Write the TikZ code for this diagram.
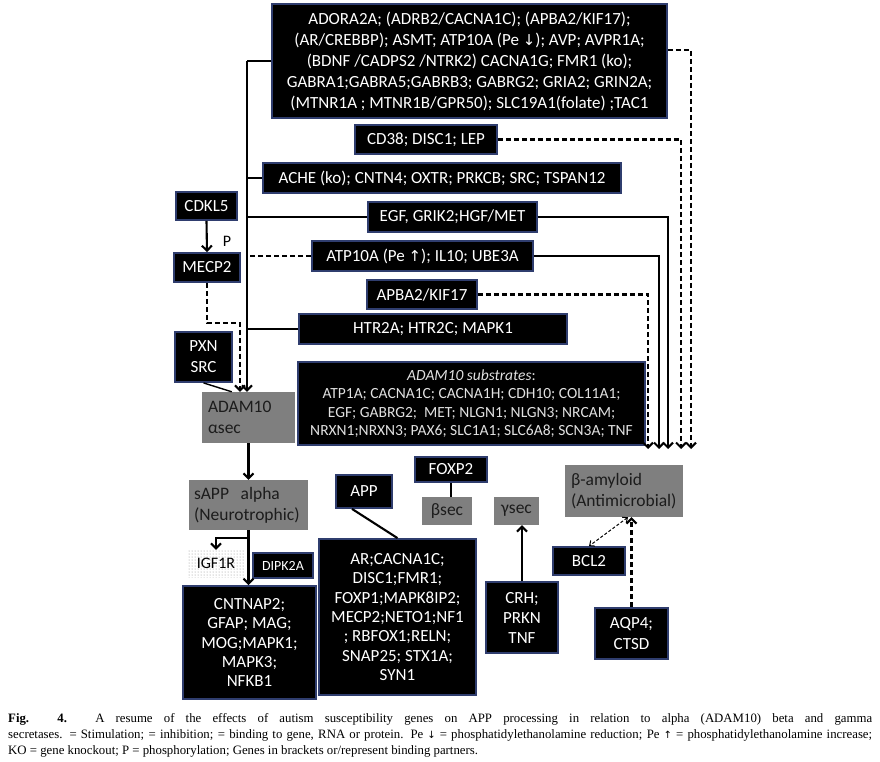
\documentclass[tikz,border=0pt]{standalone}
\usepackage{fontspec}
\setmainfont{Carlito}
\newfontfamily\capfont{Liberation Serif}
\newfontfamily\symfont{DejaVu Sans}
\usetikzlibrary{arrows.meta,patterns,calc}
\definecolor{navy}{RGB}{47,61,110}
\definecolor{boxgray}{RGB}{127,127,127}
\definecolor{gtext}{RGB}{28,28,28}
\definecolor{subtext}{RGB}{225,225,225}
\begin{document}
\begin{tikzpicture}[x=1pt,y=-1pt,
  blk/.style={draw=navy, line width=1.8pt, fill=black, text=white, inner sep=0pt, align=center, font=\fontsize{17}{21}\selectfont},
  gry/.style={fill=boxgray, text=gtext, inner sep=0pt, align=left, font=\fontsize{17.5}{21}\selectfont},
  con/.style={line width=2.1pt},
  dsh/.style={line width=2.1pt, dash pattern=on 5pt off 3pt},
  arr/.style={-{Straight Barb[length=5pt,width=10pt]}},
]
\useasboundingbox (0,0) rectangle (880,761);
\fill[white] (0,0) rectangle (880,761);

% top boxes
\node[blk, minimum width=395, minimum height=114] (adora) at (469.5,61) {ADORA2A; (ADRB2/CACNA1C); (APBA2/KIF17);\\
(AR/CREBBP); ASMT; ATP10A (Pe {\symfont\fontsize{15}{21}\selectfont ↓}); AVP; AVPR1A;\\
(BDNF /CADPS2 /NTRK2) CACNA1G; FMR1 (ko);\\
GABRA1;GABRA5;GABRB3; GABRG2; GRIA2; GRIN2A;\\
(MTNR1A ; MTNR1B/GPR50); SLC19A1(folate) ;TAC1};
\node[blk, minimum width=142, minimum height=29] (cd38) at (426,139.5) {CD38; DISC1; LEP};
\node[blk, minimum width=358, minimum height=30] (ache) at (442,178) {ACHE (ko); CNTN4; OXTR; PRKCB; SRC; TSPAN12};
\node[blk, minimum width=169, minimum height=30] (egf) at (452.5,217) {EGF, GRIK2;HGF/MET};
\node[blk, minimum width=221, minimum height=30] (atp) at (422.5,256) {ATP10A (Pe {\symfont\fontsize{15}{21}\selectfont ↑}); IL10; UBE3A};
\node[blk, minimum width=110, minimum height=29] (apba) at (422,294.5) {APBA2/KIF17};
\node[blk, minimum width=268, minimum height=30] (htr) at (433,329) {HTR2A; HTR2C; MAPK1};
\node[blk, minimum width=347, minimum height=83, font=\fontsize{15.5}{18.5}\selectfont, text=subtext] (subs) at (471.5,403.5) {\textit{ADAM10 substrates}:\\
ATP1A; CACNA1C; CACNA1H; CDH10; COL11A1;\\
EGF; GABRG2;~ MET; NLGN1; NLGN3; NRCAM;\\
NRXN1;NRXN3; PAX6; SLC1A1; SLC6A8; SCN3A; TNF};

% left column
\node[blk, minimum width=61, minimum height=28] (cdkl5) at (206.5,206) {CDKL5};
\node[blk, minimum width=66, minimum height=29] (mecp2) at (207,267.5) {MECP2};
\node[blk, minimum width=57, minimum height=50, font=\fontsize{17}{21}\selectfont] (pxn) at (203.5,357) {PXN\\SRC};
\node[font=\fontsize{16}{18}\selectfont, inner sep=0pt] (plab) at (227,241) {P};
\node[gry, minimum width=93, minimum height=51, text width=81] (adam) at (248.5,417.5) {ADAM10\\αsec};

% bottom left
\node[gry, minimum width=119, minimum height=50, text width=109] (sapp) at (248.5,505) {sAPP\ \ alpha\\(Neurotrophic)};
\node[pattern=dots, pattern color=black!45, minimum width=58, minimum height=27, inner sep=0pt, font=\fontsize{16}{18}\selectfont] (igf) at (216,563.5) {IGF1R};
\node[blk, minimum width=60, minimum height=25, font=\fontsize{14}{16}\selectfont] (dipk) at (283,565.5) {DIPK2A};
\node[blk, minimum width=133, minimum height=113, font=\fontsize{17}{19.4}\selectfont] (cntn) at (249.5,642.5) {CNTNAP2;\\GFAP; MAG;\\MOG;MAPK1;\\MAPK3;\\NFKB1};

% middle
\node[blk, minimum width=56, minimum height=33] (app) at (364,491.5) {APP};
\node[blk, minimum width=157, minimum height=156, font=\fontsize{17}{19.4}\selectfont] (appbox) at (397.5,617) {AR;CACNA1C;\\DISC1;FMR1;\\FOXP1;MAPK8IP2;\\MECP2;NETO1;NF1\\; RBFOX1;RELN;\\SNAP25; STX1A;\\SYN1};
\node[blk, minimum width=72, minimum height=25] (foxp2) at (451,469.5) {FOXP2};
\node[gry, minimum width=50, minimum height=28] (bsec) at (447,511) {βsec};
\node[gry, minimum width=45, minimum height=28] (gsec) at (516.5,511) {γsec};
\node[blk, minimum width=72, minimum height=71, font=\fontsize{17}{20}\selectfont] (crh) at (522,617.5) {CRH;\\PRKN\\TNF};

% right
\node[gry, minimum width=118, minimum height=52, text width=106] (bamy) at (624,491) {β-amyloid\\(Antimicrobial)};
\node[blk, minimum width=72, minimum height=28] (bcl2) at (589,561) {BCL2};
\node[blk, minimum width=73, minimum height=51, font=\fontsize{17}{21}\selectfont] (aqp4) at (631.5,633.5) {AQP4;\\CTSD};

% trunk on the left
\coordinate (tk) at (247,0);
\draw[con] (adora.west) -- (adora.west -| tk);
\draw[con] (ache.west) -- (ache.west -| tk);
\draw[con] (egf.west) -- (egf.west -| tk);
\draw[dsh] (atp.west) -- (atp.west -| tk);
\draw[con] (htr.west) -- (htr.west -| tk);
\draw[con,arr] (adora.west -| tk) -- (tk |- adam.north);

% CDKL5 / MECP2 / PXN
\draw[con,arr] (cdkl5.south) -- (mecp2.north);
\coordinate (mk) at (240,323);
\draw[dsh,arr] (mecp2.south) |- (mk) -- (mk |- adam.north);
\draw[line width=1.4pt] (pxn.south) -- ($(adam.north west)+(30,0)$);

% right-hand arrows to beta-amyloid
\coordinate (r1) at (691,449);
\coordinate (r2) at (681,449);
\coordinate (r3) at (668,449);
\coordinate (r4) at (659,449);
\coordinate (r5) at (648,449);
\draw[dsh,arr] ($(adora.east)+(0,-11)$) -| (r1);
\draw[dsh,arr] (cd38.east) -| (r2);
\draw[con,arr] (egf.east) -| (r3);
\draw[con,arr] (atp.east) -| (r4);
\draw[dsh,arr] (apba.east) -| (r5);

% lower connectors
\draw[con,arr] (adam.south) -- (sapp.north);
\draw[con,arr] (sapp.south) -- (sapp.south |- cntn.north);
\draw[con,arr] ($(sapp.south)+(0,8)$) -| (igf.north);
\draw[con] ($(app.south)+(-12,0)$) -- (appbox.north);
\draw[con] (foxp2.south) -- (foxp2.south |- bsec.north);
\draw[con,arr] (crh.north) -- (crh.north |- gsec.south);
\draw[dsh,arr] (aqp4.north) -- (aqp4.north |- bamy.south);
\draw[line width=1pt, dash pattern=on 3pt off 2pt, {Straight Barb[length=4pt,width=7pt]}-{Straight Barb[length=4pt,width=7pt]}] ($(bamy.south)+(4,0)$) -- (bcl2.north);

% caption
\node[anchor=north west, inner sep=0pt, text width=864pt, align=justify, font=\capfont\fontsize{12.8}{16}\selectfont] (cap) at (8,713) {\textbf{Fig. 4.} A resume of the effects of autism susceptibility genes on APP processing in relation to alpha (ADAM10) beta and gamma\linebreak secretases. = Stimulation; = inhibition; = binding to gene, RNA or protein. Pe {\symfont\fontsize{10}{16}\selectfont ↓} = phosphatidylethanolamine reduction; Pe {\symfont\fontsize{10}{16}\selectfont ↑} = phosphatidylethanolamine increase;\linebreak KO = gene knockout; P = phosphorylation; Genes in brackets or/represent binding partners.};
\end{tikzpicture}
\end{document}
